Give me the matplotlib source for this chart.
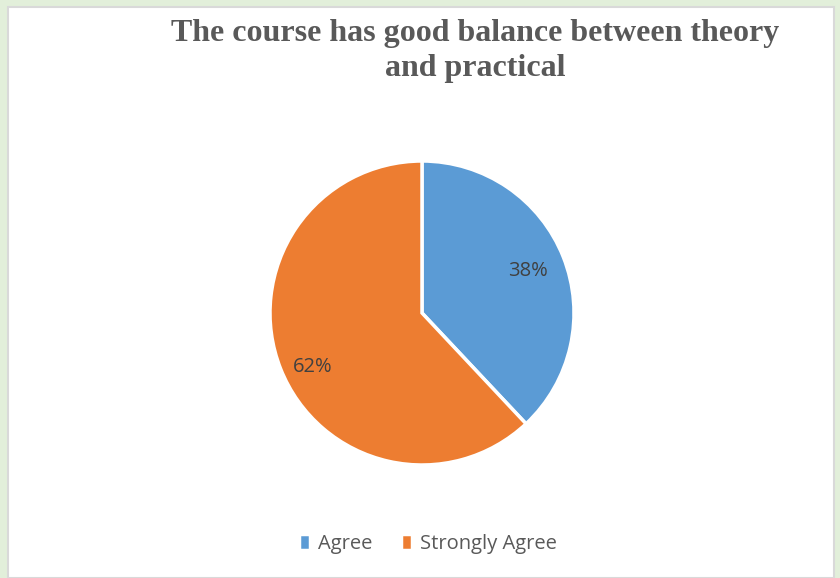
import matplotlib.pyplot as plt
from matplotlib.patches import Rectangle

labels = ['Agree', 'Strongly Agree']
values = [38, 62]
colors = ['#5B9BD5', '#ED7D31']
title = 'The course has good balance between theory\nand practical'

W, H = 840, 578
fig = plt.figure(figsize=(W / 100, H / 100), dpi=100)
fig.patch.set_facecolor('#E2EFDA')

# white chart area with light grey edge
fig.patches.append(Rectangle((8 / W, 0), (834 - 8) / W, (H - 7) / H,
                             transform=fig.transFigure, facecolor='white',
                             edgecolor='#D9D9D9', linewidth=1.5, zorder=-5))

cx, cy, r = 422, 313, 152
ax = fig.add_axes([(cx - r) / W, (H - cy - r) / H, 2 * r / W, 2 * r / H])
ax.patch.set_visible(False)
wedges, texts, autotexts = ax.pie(values, colors=colors, startangle=90, counterclock=False,
                                  autopct='%1.0f%%', pctdistance=0.75,
                                  wedgeprops=dict(edgecolor='white', linewidth=2.5, clip_on=False),
                                  textprops=dict(color='#404040', fontsize=14.5, family='Open Sans'))
# Excel puts the big slice's label a bit lower
px, py = autotexts[1].get_position()
autotexts[1].set_position((px - 0.02, py - 0.08))
ax.set_xlim(-1, 1)
ax.set_ylim(-1, 1)
ax.set_aspect('equal')
ax.axis('off')

fig.text(475 / W, 1 - 51 / H, title, ha='center', va='center', fontsize=23,
         fontweight='bold', family='Liberation Serif', color='#595959', linespacing=1.25)

fig.legend(wedges, labels, loc='center', bbox_to_anchor=(428 / W, 1 - 544 / H), ncol=2,
           frameon=False, handlelength=0.55, handleheight=0.8, handletextpad=0.4,
           columnspacing=1.4, prop=dict(family='Open Sans', size=14.5), labelcolor='#595959')

fig.savefig('out.png', dpi=100, facecolor=fig.get_facecolor())
